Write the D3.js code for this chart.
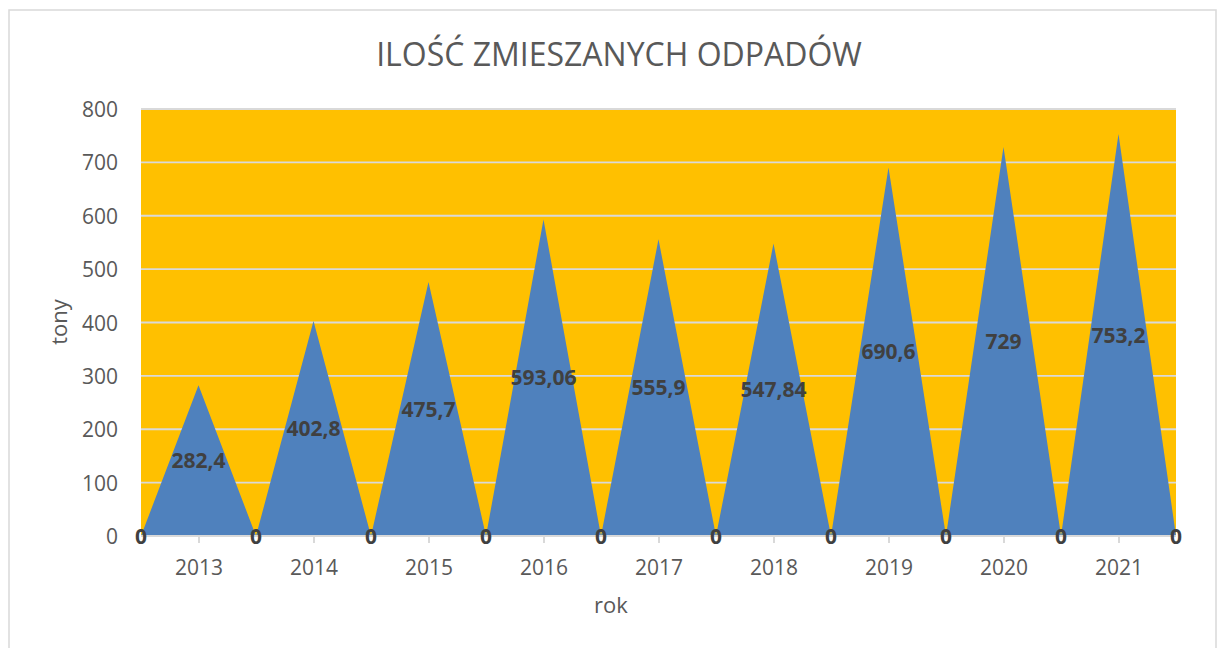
<!DOCTYPE html>
<html>
<head>
<meta charset="utf-8">
<script src="https://cdn.jsdelivr.net/npm/d3@7"></script>
<style>
  body{margin:0;background:#fff;}
  svg{display:block;font-family:"Open Sans",sans-serif;}
</style>
</head>
<body>
<div class="chart"></div>
<script>
// 19 punktow: zero miedzy latami, szczyt w srodku roku
let points=[0,282.4,0,402.8,0,475.7,0,593.06,0,555.9,0,547.84,0,690.6,0,729,0,753.2,0]
let years=['2013','2014','2015','2016','2017','2018','2019','2020','2021']
let yTicks=[0,100,200,300,400,500,600,700,800]
let title='ILOŚĆ ZMIESZANYCH ODPADÓW'

let w=1217, h=648
let pLeft=141, pRight=1176, pTop=109, pBottom=536

let xScale=d3.scaleLinear().domain([0,points.length-1]).range([pLeft,pRight])
let yScale=d3.scaleLinear().domain([0,800]).range([pBottom,pTop])
let fmt=v=>String(v).replace('.',',')

let svg=d3.select('.chart').append('svg').attr('width',w).attr('height',h)

// ramka wykresu
svg.append('rect').attr('x',9).attr('y',10).attr('width',1207).attr('height',650)
  .attr('fill','#fff').attr('stroke','#d9d9d9').attr('stroke-width',1.5)

svg.append('text').text(title).attr('x',619).attr('y',66)
  .attr('text-anchor','middle').attr('font-size',32).attr('fill','#595959')

// tlo obszaru kreslenia
svg.append('rect').attr('x',pLeft).attr('y',pTop).attr('width',pRight-pLeft).attr('height',pBottom-pTop)
  .attr('fill','#ffc000')

svg.append('g').selectAll('line').data(yTicks.slice(1)).enter().append('line')
  .attr('x1',pLeft).attr('x2',pRight)
  .attr('y1',d=>yScale(d)).attr('y2',d=>yScale(d))
  .attr('stroke','#d9d9d9').attr('stroke-width',1.8)

let area=d3.area().x((d,i)=>xScale(i)).y0(yScale(0)).y1(d=>yScale(d))
svg.append('path').datum(points).attr('d',area).attr('fill','#4f81bd')

// os x
let xAxis=d3.axisBottom(xScale)
  .tickValues(years.map((d,i)=>i*2+1))
  .tickSize(7)
  .tickFormat((d)=>years[(d-1)/2])
let gx=svg.append('g').attr('transform','translate(0,'+pBottom+')').call(xAxis)
gx.select('.domain').attr('stroke','#d9d9d9').attr('stroke-width',2).attr('d','M'+pLeft+',0H'+pRight)
gx.selectAll('.tick line').attr('stroke','#d9d9d9').attr('stroke-width',2)
gx.selectAll('.tick text').attr('y',39).attr('dy',null).attr('font-size',21)
  .attr('fill','#595959').attr('font-family','"Open Sans",sans-serif')

// os y
let yAxis=d3.axisLeft(yScale).tickValues(yTicks).tickSize(0).tickPadding(0)
let gy=svg.append('g').attr('transform','translate(118,0)').call(yAxis)
gy.select('.domain').remove()
gy.selectAll('.tick text').attr('dy','0.36em').attr('font-size',21)
  .attr('fill','#595959').attr('font-family','"Open Sans",sans-serif')

// etykiety danych
svg.append('g').selectAll('text').data(points).enter().append('text')
  .text(d=>fmt(d))
  .attr('x',(d,i)=>xScale(i))
  .attr('y',d=>yScale(d/2))
  .attr('dy','0.36em')
  .attr('text-anchor','middle')
  .attr('font-size',21).attr('font-weight','bold').attr('fill','#404040')

svg.append('text').text('rok').attr('x',611).attr('y',613)
  .attr('text-anchor','middle').attr('font-size',22).attr('fill','#595959')
svg.append('text').text('tony')
  .attr('transform','translate(67,322) rotate(-90)')
  .attr('text-anchor','middle').attr('font-size',22).attr('fill','#595959')
</script>
</body>
</html>
